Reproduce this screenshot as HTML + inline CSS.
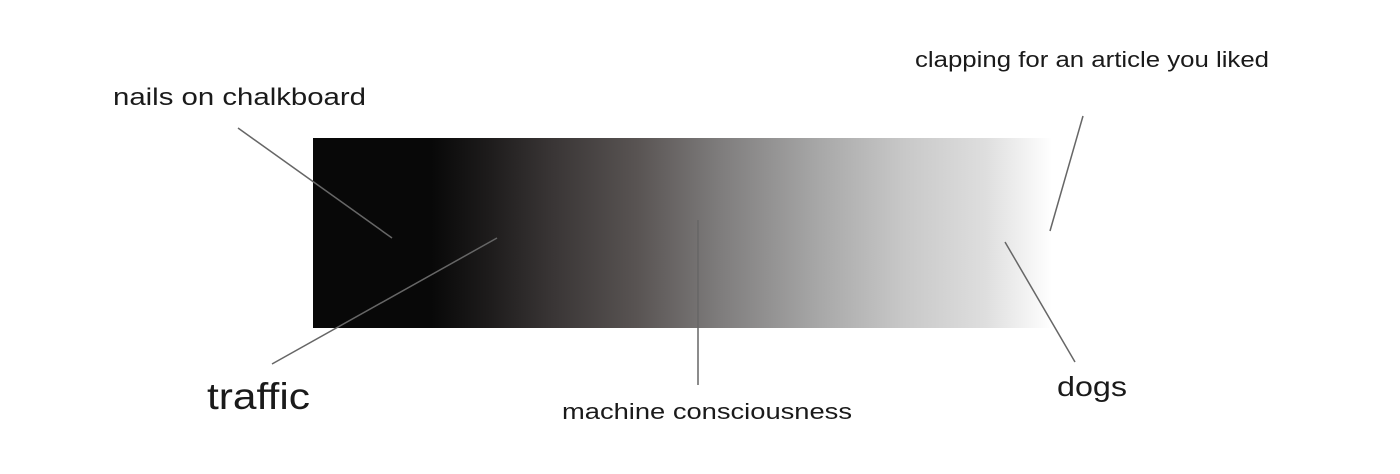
<!DOCTYPE html>
<html><head><meta charset="utf-8"><style>
html,body{margin:0;padding:0;background:#fff}
svg{display:block}
text{font-family:"Liberation Sans",sans-serif;fill:#1a1a1a}
</style></head><body>
<svg width="1400" height="474" viewBox="0 0 1400 474">
<defs>
<linearGradient id="g" x1="313" x2="1052" y1="0" y2="0" gradientUnits="userSpaceOnUse">
<stop offset="0" stop-color="#080808"/>
<stop offset="0.16" stop-color="#080808"/>
<stop offset="0.24" stop-color="#1e1c1c"/>
<stop offset="0.32" stop-color="#383434"/>
<stop offset="0.44" stop-color="#595453"/>
<stop offset="0.55" stop-color="#7e7c7c"/>
<stop offset="0.68" stop-color="#a6a6a6"/>
<stop offset="0.80" stop-color="#c8c8c8"/>
<stop offset="0.91" stop-color="#dedede"/>
<stop offset="1" stop-color="#ffffff"/>
</linearGradient>
</defs>
<rect x="313" y="138" width="739" height="190" fill="url(#g)"/>
<g stroke="#666" stroke-width="1.5" fill="none">
<line x1="238" y1="128" x2="392" y2="238"/>
<line x1="272" y1="364" x2="497" y2="238"/>
<line x1="698" y1="220" x2="698" y2="385"/>
<line x1="1083" y1="116" x2="1050" y2="231"/>
<line x1="1005" y1="242" x2="1075" y2="362"/>
</g>
<text x="113" y="105" font-size="24" textLength="253" lengthAdjust="spacingAndGlyphs">nails on chalkboard</text>
<text x="207" y="409" font-size="37" textLength="103" lengthAdjust="spacingAndGlyphs">traffic</text>
<text x="562" y="419" font-size="22" textLength="290" lengthAdjust="spacingAndGlyphs">machine consciousness</text>
<text x="915" y="67" font-size="22" textLength="354" lengthAdjust="spacingAndGlyphs">clapping for an article you liked</text>
<text x="1057" y="396" font-size="28" textLength="70" lengthAdjust="spacingAndGlyphs">dogs</text>
</svg>
</body></html>
